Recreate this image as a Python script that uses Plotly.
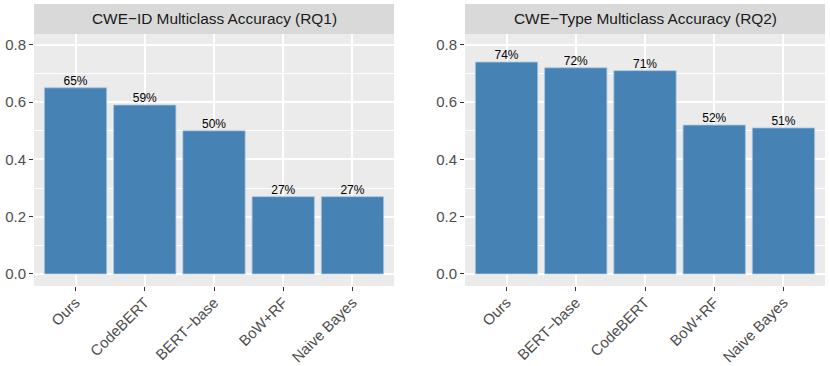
import plotly.graph_objects as go

# data
rq1_models = ["Ours", "CodeBERT", "BERT\u2212base", "BoW+RF", "Naive Bayes"]
rq1_acc = [0.65, 0.59, 0.50, 0.27, 0.27]
rq2_models = ["Ours", "BERT\u2212base", "CodeBERT", "BoW+RF", "Naive Bayes"]
rq2_acc = [0.74, 0.72, 0.71, 0.52, 0.51]
titles = ["CWE\u2212ID Multiclass Accuracy (RQ1)", "CWE\u2212Type Multiclass Accuracy (RQ2)"]

W, H = 830, 366
FONT = "Liberation Sans, Arial, sans-serif"

fig = go.Figure()

# panel positions in px (left, right), shared top/bottom
panels = [(34, 394), (465, 825)]
p_top, p_bot = 34, 286
strip_top = 4

ydom = [(H - p_bot) / H, (H - p_top) / H]

for i, (models, acc) in enumerate([(rq1_models, rq1_acc), (rq2_models, rq2_acc)]):
    xa = "x" if i == 0 else "x2"
    ya = "y" if i == 0 else "y2"
    fig.add_trace(go.Bar(
        x=models, y=acc, xaxis=xa, yaxis=ya, width=0.9,
        marker=dict(color="#4682B4", line=dict(color="#a9c6e0", width=0.8)),
        showlegend=False, hoverinfo="x+y"))
    fig.add_trace(go.Scatter(
        x=models, y=acc, xaxis=xa, yaxis=ya, mode="text",
        text=[f"{round(v * 100)}%" for v in acc], textposition="top center",
        textfont=dict(size=12, color="#000000", family=FONT),
        showlegend=False, hoverinfo="skip", cliponaxis=False))

    l, r = panels[i]
    dom = [l / W, r / W]
    axis_x = dict(domain=dom, anchor=ya, type="category", range=[-0.6, 4.6],
                  showgrid=True, gridcolor="white", gridwidth=1.5,
                  ticks="outside", ticklen=4, tickcolor="#333333", tickwidth=1.2,
                  tickangle=-45, ticklabelstandoff=-3,
                  tickfont=dict(size=15, color="#4D4D4D", family=FONT),
                  showline=False, zeroline=False, automargin=False, fixedrange=True)
    axis_y = dict(domain=ydom, anchor=xa, range=[-0.042, 0.838],
                  tickvals=[0, 0.2, 0.4, 0.6, 0.8], ticktext=["0.0", "0.2", "0.4", "0.6", "0.8"],
                  showgrid=True, gridcolor="white", gridwidth=1.5,
                  minor=dict(tickvals=[0.1, 0.3, 0.5, 0.7], showgrid=True,
                             gridcolor="white", gridwidth=0.8, ticks=""),
                  ticks="outside", ticklen=4, tickcolor="#333333", tickwidth=1.2,
                  tickfont=dict(size=15, color="#4D4D4D", family=FONT),
                  showline=False, zeroline=False, automargin=False, fixedrange=True)
    if i == 0:
        fig.update_layout(xaxis=axis_x, yaxis=axis_y)
    else:
        fig.update_layout(xaxis2=axis_x, yaxis2=axis_y)

    # panel background
    fig.add_shape(type="rect", xref="paper", yref="paper", layer="below",
                  x0=l / W, x1=r / W, y0=ydom[0], y1=ydom[1],
                  fillcolor="#EBEBEB", line=dict(width=0))
    # facet strip
    fig.add_shape(type="rect", xref="paper", yref="paper",
                  x0=l / W, x1=r / W, y0=(H - p_top) / H, y1=(H - strip_top) / H,
                  fillcolor="#D9D9D9", line=dict(width=0))
    fig.add_annotation(x=(l + r) / 2 / W, y=(H - (p_top + strip_top) / 2) / H,
                       xref="paper", yref="paper", text=titles[i], showarrow=False,
                       xanchor="center", yanchor="middle",
                       font=dict(size=15.4, color="#1A1A1A", family=FONT))

fig.update_layout(width=W, height=H, margin=dict(l=0, r=0, t=0, b=0),
                  paper_bgcolor="white", plot_bgcolor="rgba(0,0,0,0)",
                  bargap=0.1, font=dict(family=FONT))

# drop the default 8px body margin so the figure sits at the window origin
fig.write_html("out.html", config={"displayModeBar": False},
               post_script="document.body.style.margin='0px';")
